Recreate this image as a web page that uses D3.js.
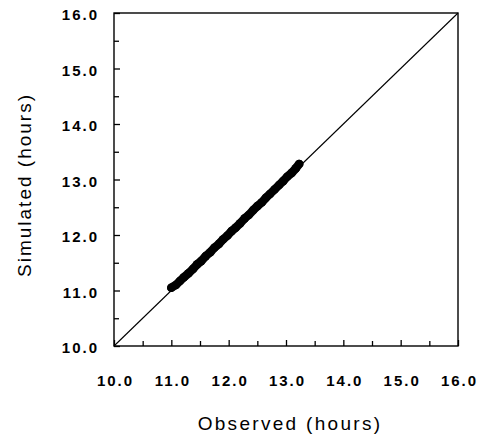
<!DOCTYPE html>
<html>
<head>
<meta charset="utf-8">
<script src="https://cdn.jsdelivr.net/npm/d3@7"></script>
<style>
body { margin: 0; background: #fff; }
text { font-family: Arial, "Liberation Sans", sans-serif; fill: #000; }
</style>
</head>
<body>
<div id="chart"></div>
<script>
var width = 480, height = 441;

var tickValues = [10, 11, 12, 13, 14, 15, 16];
var minorTicks = [10.5, 11.5, 12.5, 13.5, 14.5, 15.5];
var observed  = [11.00, 11.08, 11.15, 11.22, 11.30, 11.38, 11.45, 11.52, 11.60, 11.68, 11.75, 11.83,
                 11.90, 11.98, 12.05, 12.12, 12.20, 12.28, 12.35, 12.43, 12.50, 12.58, 12.65, 12.72,
                 12.80, 12.88, 12.95, 13.02, 13.10, 13.17, 13.23];
var simulated = [11.05, 11.10, 11.17, 11.24, 11.31, 11.39, 11.47, 11.53, 11.62, 11.69, 11.77, 11.84,
                 11.92, 11.99, 12.07, 12.13, 12.21, 12.30, 12.36, 12.45, 12.52, 12.59, 12.67, 12.74,
                 12.82, 12.90, 12.97, 13.05, 13.12, 13.20, 13.28];

var margin = {left: 114, right: 22, top: 13, bottom: 95};

var svg = d3.select("#chart").append("svg")
	.attr("width", width)
	.attr("height", height);

var x = d3.scaleLinear().domain([10, 16]).range([margin.left, width - margin.right]);
var y = d3.scaleLinear().domain([10, 16]).range([height - margin.bottom, margin.top]);

// frame
svg.append("rect")
	.attr("x", x(10)).attr("y", y(16))
	.attr("width", x(16) - x(10)).attr("height", y(10) - y(16))
	.attr("fill", "none").attr("stroke", "#000").attr("stroke-width", 1.4);

// axes with inward ticks
var xAxis = svg.append("g")
	.attr("transform", "translate(0," + y(10) + ")")
	.call(d3.axisBottom(x).tickValues(tickValues).tickSize(-6).tickPadding(29).tickFormat(d3.format(".1f")));
var yAxis = svg.append("g")
	.attr("transform", "translate(" + x(10) + ",0)")
	.call(d3.axisLeft(y).tickValues(tickValues).tickSize(-6).tickPadding(15).tickFormat(d3.format(".1f")));

svg.append("g")
	.attr("transform", "translate(0," + y(10) + ")")
	.call(d3.axisBottom(x).tickValues(minorTicks).tickSize(-5).tickFormat(""));
svg.append("g")
	.attr("transform", "translate(" + x(10) + ",0)")
	.call(d3.axisLeft(y).tickValues(minorTicks).tickSize(-5).tickFormat(""));

svg.selectAll(".domain").remove();
svg.selectAll(".tick line").attr("stroke", "#000").attr("stroke-width", 1.3);
svg.selectAll(".tick text")
	.style("font-size", "15px")
	.style("font-weight", "bold")
	.style("letter-spacing", "2px")
	.style("font-family", "Arial, 'Liberation Sans', sans-serif");
xAxis.selectAll(".tick text").attr("dx", "1px");
yAxis.selectAll(".tick text").attr("dy", "0.45em");

// 1:1 line
svg.append("line")
	.attr("x1", x(10)).attr("y1", y(10))
	.attr("x2", x(16)).attr("y2", y(16))
	.attr("stroke", "#000").attr("stroke-width", 1.1);

// observed vs simulated points
var pts = observed.map(function(d, i){ return [d, simulated[i]]; });
svg.append("path")
	.attr("d", d3.line().x(function(d){ return x(d[0]); }).y(function(d){ return y(d[1]); })(pts))
	.attr("fill", "none").attr("stroke", "#000")
	.attr("stroke-width", 8.5).attr("stroke-linecap", "round");
svg.selectAll("circle.pt").data(pts).enter().append("circle")
	.attr("class", "pt")
	.attr("cx", function(d){ return x(d[0]); })
	.attr("cy", function(d){ return y(d[1]); })
	.attr("r", 4.3).attr("fill", "#000");

// axis titles
svg.append("text")
	.attr("x", 290).attr("y", 430)
	.attr("text-anchor", "middle")
	.style("font-size", "19px")
	.style("letter-spacing", "2.3px")
	.text("Observed (hours)");
svg.append("text")
	.attr("transform", "translate(31,185) rotate(-90)")
	.attr("text-anchor", "middle")
	.style("font-size", "19px")
	.style("letter-spacing", "2px")
	.text("Simulated (hours)");
</script>
</body>
</html>
